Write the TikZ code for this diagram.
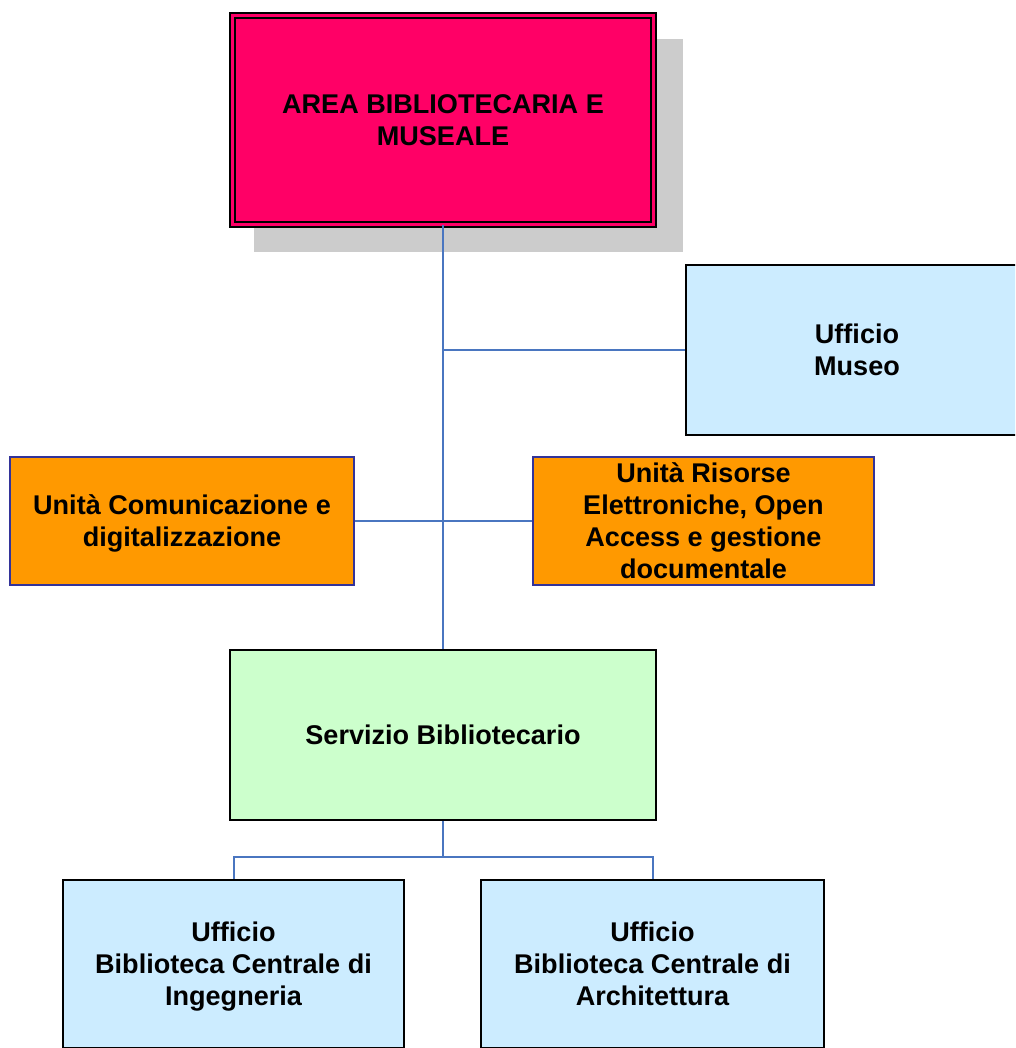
\documentclass[tikz,border=0pt]{standalone}
\usepackage{fontspec}
\setmainfont{Liberation Sans}
\usepackage{tikz}
\usetikzlibrary{positioning}

\definecolor{areapink}{HTML}{FF0066}
\definecolor{uffblue}{HTML}{CCECFF}
\definecolor{unitorange}{HTML}{FF9900}
\definecolor{servgreen}{HTML}{CCFFCC}
\definecolor{shadowgray}{HTML}{CCCCCC}
\definecolor{linkblue}{HTML}{4A76C0}
\definecolor{unitborder}{HTML}{333399}

\begin{document}
\begin{tikzpicture}[x=0.02cm,y=-0.02cm]
			\tikzstyle{Box}		= [rectangle, align=center, inner sep=0pt, text depth=0pt, font=\fontsize{15.4}{18.2}\selectfont\bfseries]
			\tikzstyle{Area}	= [Box, fill=areapink, draw=black, line width=0.04cm, double=areapink, double distance=0.06cm]
			\tikzstyle{Shadow}	= [rectangle, fill=shadowgray, inner sep=0pt]
			\tikzstyle{Ufficio}	= [Box, fill=uffblue, draw=black, line width=0.04cm]
			\tikzstyle{Unita}	= [Box, fill=unitorange, draw=unitborder, line width=0.04cm]
			\tikzstyle{Servizio}	= [Box, fill=servgreen, draw=black, line width=0.04cm]
			\tikzstyle{Link}	= [line width=0.04cm, linkblue]

			\useasboundingbox (0,0) rectangle (1015,1048);
			\clip (0,0) rectangle (1015,1048);

			\node (shadow) at (468.5,145.5) [Shadow, minimum width=8.58cm, minimum height=4.26cm] {};
			\node (area) at (443,120) [Area, minimum width=8.44cm, minimum height=4.18cm] {AREA BIBLIOTECARIA E\\MUSEALE};
			\node (museo) at (857,350) [Ufficio, minimum width=6.84cm, minimum height=3.4cm] {Ufficio\\Museo};
			\node (comun) at (182,521) [Unita, minimum width=6.88cm, minimum height=2.56cm] {Unità Comunicazione e\\digitalizzazione};
			\node (risorse) at (703.5,521) [Unita, minimum width=6.82cm, minimum height=2.56cm] {Unità Risorse\\Elettroniche, Open\\Access e gestione\\documentale};
			\node (servizio) at (443,735) [Servizio, minimum width=8.54cm, minimum height=3.4cm] {Servizio Bibliotecario};
			\node (ing) at (233.5,964) [Ufficio, minimum width=6.82cm, minimum height=3.36cm] {Ufficio\\Biblioteca Centrale di\\Ingegneria};
			\node (arch) at (652.5,964) [Ufficio, minimum width=6.86cm, minimum height=3.36cm] {Ufficio\\Biblioteca Centrale di\\Architettura};
			\coordinate (bus) at (443,857);

			\draw [-] (area.south) to (servizio.north) [Link];
			\draw [-] (museo.west) to (museo.west -| area.south) [Link];
			\draw [-] (comun.east) to (risorse.west) [Link];
			\draw [-] (servizio.south) to (bus) [Link];
			\draw [-] (bus) -| (ing.north) [Link];
			\draw [-] (bus) -| (arch.north) [Link];

		\end{tikzpicture}
\end{document}
